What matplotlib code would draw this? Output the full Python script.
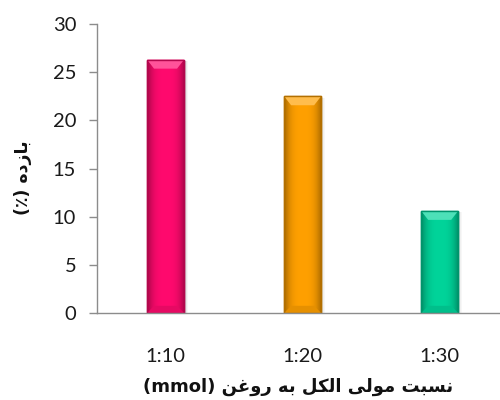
import numpy as np
import matplotlib
matplotlib.use("Agg")
import matplotlib.pyplot as plt
from matplotlib.patches import Polygon
from matplotlib.colors import to_rgb

categories = ["1:10", "1:20", "1:30"]
yield_values = [26.3, 22.5, 10.6]
bar_colors = ["#FF0A6E", "#FFA000", "#00D49A"]
y_ticks = [0, 5, 10, 15, 20, 25, 30]


def shape_persian(glyphs):
    """Presentation-form glyphs in logical order -> visual (LTR) order."""
    return "".join(reversed(glyphs))


# نسبت مولی الکل به روغن  (pre-shaped presentation forms)
words_x = [
    "\uFEE7\uFEB4\uFE92\uFE96",          # نسبت
    "\uFEE3\uFEEE\uFEDF\uFEF0",          # مولی
    "\uFE8D\uFEDF\uFB91\uFEDE",          # الکل
    "\uFE91\uFEEA",                      # به
    "\uFEAD\uFEED\uFECF\uFEE6",          # روغن
]
xlabel_text = "(mmol) " + shape_persian(" ".join(words_x))
# بازده
ylabel_text = "(\u066A) " + shape_persian("\uFE91\uFE8E\uFEAF\uFEA9\uFEE9")

fig = plt.figure(figsize=(5, 4), dpi=100)
ax = fig.add_axes([0.194, 0.2175, 0.806, 0.7225])

x = np.arange(len(categories))
width = 0.27
ax.set_xlim(-0.5, 2.44)
ax.set_ylim(0, 30)


def darker(c, f):
    r, g, b = to_rgb(c)
    return (r * f, g * f, b * f)


def lighter(c, f):
    r, g, b = to_rgb(c)
    return (r + (1 - r) * f, g + (1 - g) * f, b + (1 - b) * f)


bars = ax.bar(x, yield_values, width=width, color=bar_colors,
              edgecolor=[darker(c, 0.7) for c in bar_colors], linewidth=1.0,
              zorder=3)

# soft shadow to the right of each bar
px_to_x = (2.44 + 0.5) / (0.806 * 500)
px_to_y = 30 / (0.7225 * 400)
for xi, v in zip(x, yield_values):
    for k, a in enumerate([0.10, 0.06, 0.03]):
        ax.bar(xi + width / 2 + (k + 1.0) * px_to_x, v - 1.5 * px_to_y,
               width=1.2 * px_to_x, bottom=0, color="black", alpha=a,
               linewidth=0, zorder=2)

# horizontal shading and top bevel on each bar
grad = np.linspace(-1, 1, 64)
profile = 1 - 0.35 * np.abs(grad) ** 3
for rect, c, v in zip(bars, bar_colors, yield_values):
    x0 = rect.get_x()
    x1 = x0 + rect.get_width()
    base = np.array(to_rgb(c))
    img = np.zeros((2, len(grad), 4))
    for i, p in enumerate(profile):
        img[:, i, :3] = np.clip(base * p, 0, 1)
        img[:, i, 3] = 1
    im = ax.imshow(img, extent=[x0, x1, 0, v], aspect="auto",
                   interpolation="bilinear", zorder=3.5)
    im.set_clip_path(rect)
    # top bevel highlight
    bh = 9 * px_to_y
    bw = 7 * px_to_x
    top = Polygon([[x0, v], [x1, v], [x1 - bw, v - bh], [x0 + bw, v - bh]],
                  closed=True, facecolor=lighter(c, 0.3), edgecolor="none",
                  zorder=3.6)
    ax.add_patch(top)
    # bottom bevel
    bot = Polygon([[x0, 0], [x1, 0], [x1 - bw, bh * 0.8], [x0 + bw, bh * 0.8]],
                  closed=True, facecolor=darker(c, 0.9), edgecolor="none",
                  zorder=3.6)
    ax.add_patch(bot)
    ax.add_patch(Polygon([[x0, 0], [x0, v], [x1, v], [x1, 0]], closed=True,
                         fill=False, edgecolor=darker(c, 0.7), linewidth=1.0,
                         zorder=3.7))

ax.set_xticks(x)
ax.set_xticklabels(categories, fontfamily="Lato", fontsize=14.5, color="#1a1a1a")
ax.set_yticks(y_ticks)
ax.set_yticklabels([str(t) for t in y_ticks], fontfamily="Lato", fontsize=14.5,
                   color="#1a1a1a")
ax.tick_params(axis="x", length=0, pad=25)
ax.tick_params(axis="y", length=6, width=1, color="#8c8c8c", pad=9)

for s in ["top", "right"]:
    ax.spines[s].set_visible(False)
for s in ["left", "bottom"]:
    ax.spines[s].set_color("#8c8c8c")
    ax.spines[s].set_linewidth(1.0)
ax.spines["bottom"].set_zorder(4)

fig.text(0.596, 0.032, xlabel_text, ha="center", va="center",
         fontfamily="DejaVu Sans", fontweight="bold", fontsize=13,
         color="#111111")
fig.text(0.046, 0.557, ylabel_text, ha="center", va="center", rotation=90,
         fontfamily="DejaVu Sans", fontweight="bold", fontsize=12.5,
         color="#111111")

fig.savefig("out.png", dpi=100)
